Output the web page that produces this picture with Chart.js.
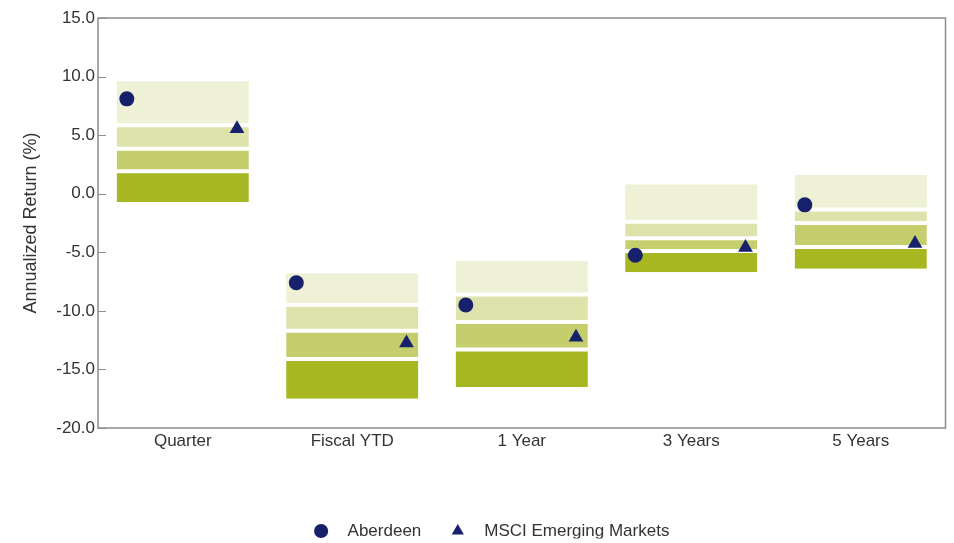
<!DOCTYPE html>
<html>
<head>
<meta charset="utf-8">
<script src="https://cdn.jsdelivr.net/npm/chart.js@4.4.1/dist/chart.umd.min.js"></script>
<style>
  html, body { margin: 0; padding: 0; background: #fff; }
  #wrap { width: 954px; height: 543px; }
</style>
</head>
<body>
<div id="wrap"><canvas id="chart" width="954" height="543"></canvas></div>
<script>
// categories and universe percentiles (5th / 25th / median / 75th / 95th)
const categories = ['Quarter', 'Fiscal YTD', '1 Year', '3 Years', '5 Years'];
const p5  = [9.6, -6.8, -5.7, 0.8, 1.6];
const p25 = [5.85, -9.5, -8.6, -2.4, -1.35];
const p50 = [3.84, -11.7, -10.95, -3.8, -2.5];
const p75 = [1.92, -14.1, -13.3, -4.9, -4.55];
const p95 = [-0.7, -17.5, -16.5, -6.7, -6.4];

// fund and benchmark
const aberdeen = [8.1, -7.6, -9.5, -5.25, -0.95];
const msci = [5.55, -12.75, -12.25, -4.6, -4.25];

const yTicks = [-20, -15, -10, -5, 0, 5, 10, 15];

const NAVY = '#17206b';
const AXIS = '#8c8c8c';

function band(label, lo, hi, color, border) {
  return {
    type: 'bar',
    label: label,
    data: categories.map((c, i) => [lo[i], hi[i]]),
    backgroundColor: color,
    borderColor: '#ffffff',
    borderWidth: border,
    borderSkipped: false,
    grouped: false,
    barPercentage: 0.78,
    categoryPercentage: 1,
    xAxisID: 'x',
    order: 1
  };
}

function marks(label, values, shift, style, size) {
  return {
    type: 'scatter',
    label: label,
    data: values.map((v, i) => ({ x: i + shift, y: v })),
    pointStyle: style,
    pointRadius: size,
    pointHoverRadius: size,
    backgroundColor: NAVY,
    borderColor: NAVY,
    borderWidth: 0,
    xAxisID: 'xp',
    order: 0
  };
}

// frame around the plot + short inward ticks on y
const frame = {
  id: 'frame',
  afterLayout(chart) {
    // legend sits a bit right of the canvas centre
    chart.legend.left += 17;
    chart.legend.right += 17;
  },
  afterDraw(chart) {
    const { ctx, chartArea: a, scales } = chart;
    ctx.save();
    ctx.strokeStyle = AXIS;
    ctx.lineWidth = 1.5;
    ctx.strokeRect(a.left, a.top, a.right - a.left, a.bottom - a.top);
    ctx.lineWidth = 1;
    scales.y.ticks.forEach(t => {
      const y = Math.round(scales.y.getPixelForValue(t.value)) + 0.5;
      ctx.beginPath();
      ctx.moveTo(a.left, y);
      ctx.lineTo(a.left + 8, y);
      ctx.stroke();
    });
    ctx.restore();
  }
};

Chart.defaults.font.family = '"Liberation Sans", Arial, sans-serif';
Chart.defaults.font.size = 17;
Chart.defaults.color = '#333333';

new Chart(document.getElementById('chart'), {
  type: 'bar',
  data: {
    labels: categories,
    datasets: [
      marks('Aberdeen', aberdeen, -0.33, 'circle', 7.5),
      marks('MSCI Emerging Markets', msci, 0.32, 'triangle', 8.5),
      band('5th-25th', p25, p5, '#eef1d5', { top: 0, bottom: 2, left: 0, right: 0 }),
      band('25th-Median', p50, p25, '#dde3ab', { top: 2, bottom: 2, left: 0, right: 0 }),
      band('Median-75th', p75, p50, '#c5ce6c', { top: 2, bottom: 2, left: 0, right: 0 }),
      band('75th-95th', p95, p75, '#a6b721', { top: 2, bottom: 0, left: 0, right: 0 })
    ]
  },
  options: {
    responsive: false,
    animation: false,
    layout: { padding: { top: 18, right: 6, bottom: 4.5, left: 0 } },
    scales: {
      x: {
        type: 'category',
        offset: true,
        grid: { display: false, drawTicks: false },
        border: { display: false },
        ticks: { padding: 3, color: '#333333' },
        afterFit: s => { s.height = 66.5; }
      },
      xp: {
        type: 'linear',
        display: false,
        offset: false,
        min: -0.5,
        max: 4.5
      },
      y: {
        min: -20,
        max: 15,
        afterBuildTicks: s => { s.ticks = yTicks.map(v => ({ value: v })); },
        grid: { display: false, drawTicks: false },
        border: { display: false },
        ticks: {
          padding: 3,
          color: '#333333',
          callback: v => v.toFixed(1)
        },
        title: {
          display: true,
          text: 'Annualized Return (%)',
          color: '#333333',
          font: { size: 18 },
          padding: { top: 20, bottom: 0 }
        },
        afterFit: s => { s.width = 98; }
      }
    },
    plugins: {
      legend: {
        position: 'bottom',
        maxHeight: 44,
        labels: {
          usePointStyle: true,
          boxHeight: 10,
          padding: 28,
          color: '#333333',
          generateLabels: chart => Chart.defaults.plugins.legend.labels.generateLabels(chart)
            .map(item => Object.assign(item, { text: '  ' + item.text })),
          filter: item => item.datasetIndex < 2
        }
      },
      tooltip: { enabled: false }
    }
  },
  plugins: [frame]
});
</script>
</body>
</html>
